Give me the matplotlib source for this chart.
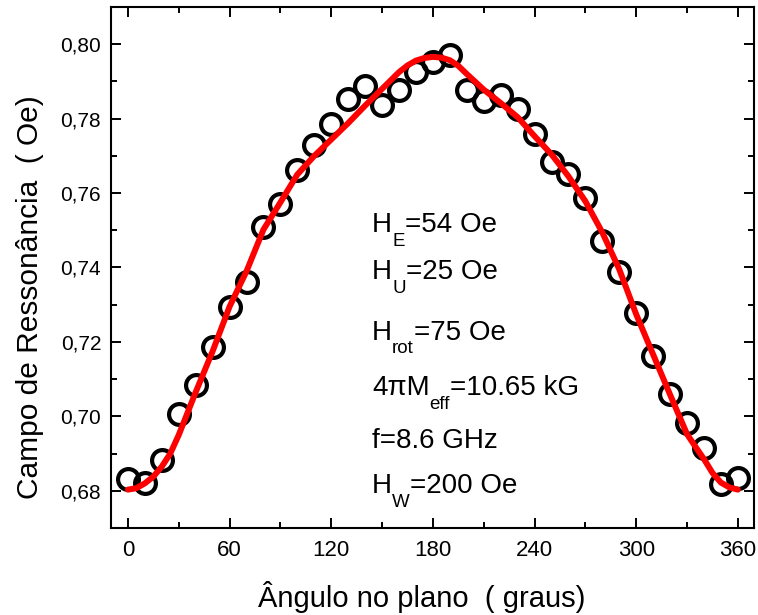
import numpy as np
import matplotlib
matplotlib.use('Agg')
import matplotlib.pyplot as plt
from matplotlib.ticker import MultipleLocator, FuncFormatter

# dados medidos (angulo no plano, campo de ressonancia)
angulo = [0, 10, 20, 30, 40, 50, 60, 70, 80, 90, 100, 110, 120, 130, 140, 150,
          160, 170, 180, 190, 200, 210, 220, 230, 240, 250, 260, 270, 280, 290,
          300, 310, 320, 330, 340, 350, 360]
campo = [0.6832, 0.6822, 0.6884, 0.7007, 0.7083, 0.7185, 0.7295, 0.7362, 0.7508,
         0.7570, 0.7661, 0.7728, 0.7785, 0.7852, 0.7887, 0.7836, 0.7876, 0.7925,
         0.7952, 0.7970, 0.7876, 0.7847, 0.7863, 0.7825, 0.7760, 0.7683, 0.7650,
         0.7588, 0.7470, 0.7387, 0.7279, 0.7161, 0.7061, 0.6983, 0.6916, 0.6819,
         0.6833]

# curva ajustada
angulo_fit = [0, 5, 10, 15, 20, 25, 30, 40, 50, 60, 70, 80, 90, 100, 110, 120,
              130, 140, 150, 160, 165, 170, 175, 180, 185, 190, 195, 200, 210,
              220, 230, 240, 250, 260, 270, 280, 290, 300, 310, 320, 330, 335,
              340, 345, 350, 355, 360]
campo_fit = [0.6803, 0.6807, 0.6820, 0.6838, 0.6865, 0.6900, 0.6950, 0.7065,
             0.7175, 0.7295, 0.7390, 0.7502, 0.7575, 0.7650, 0.7700, 0.7744,
             0.7788, 0.7835, 0.7880, 0.7925, 0.7943, 0.7956, 0.7963, 0.7966,
             0.7964, 0.7957, 0.7942, 0.7920, 0.7878, 0.7842, 0.7804, 0.7753,
             0.7704, 0.7645, 0.7578, 0.7494, 0.7395, 0.7274, 0.7166, 0.7058,
             0.6952, 0.6918, 0.6885, 0.6848, 0.6822, 0.6809, 0.6803]

# parametros do ajuste: (simbolo, subscrito, resto)
parametros = [('H', 'E', '=54 Oe'),
              ('H', 'U', '=25 Oe'),
              ('H', 'rot', '=75 Oe'),
              ('4\u03c0M', 'eff', '=10.65 kG'),
              ('f=8.6 GHz', '', ''),
              ('H', 'W', '=200 Oe')]
y_texto = [0.568, 0.478, 0.361, 0.255, 0.154, 0.067]

plt.rcParams['font.family'] = ['Liberation Sans', 'DejaVu Sans']

fig = plt.figure(figsize=(7.58, 6.15), dpi=100)
ax = fig.add_axes([0.1464, 0.1415, 0.8483, 0.8471])

ax.plot(angulo, campo, 'o', mfc='none', mec='black', ms=15, mew=3.0, zorder=2)
ax.plot(angulo_fit, campo_fit, '-', color='red', lw=4.3, zorder=3,
        solid_capstyle='round', solid_joinstyle='round')

ax.set_xlim(-10, 369.5)
ax.set_ylim(0.670, 0.810)
ax.set_xticks(np.arange(0, 361, 60))
ax.xaxis.set_minor_locator(MultipleLocator(30))
ax.set_yticks(np.arange(0.68, 0.801, 0.02))
ax.yaxis.set_minor_locator(MultipleLocator(0.01))
ax.yaxis.set_major_formatter(FuncFormatter(lambda v, p: f'{v:.2f}'.replace('.', ',')))

for s in ax.spines.values():
    s.set_linewidth(1.5)
ax.tick_params(which='both', direction='in', top=True, right=True, width=1.4)
ax.tick_params(which='major', length=7)
ax.tick_params(which='minor', length=4.5)
ax.tick_params(axis='y', labelsize=15, pad=7)
ax.tick_params(axis='x', labelsize=16, pad=9)

fig.text(422 / 758, 1 - 597 / 615, '\u00c2ngulo no plano  ( graus)',
         fontsize=21, ha='center', va='center')
fig.text(30 / 758, 1 - 297 / 615, 'Campo de Resson\u00e2ncia  ( Oe)', fontsize=21.5,
         rotation=90, ha='center', va='center')

# texto com subscrito montado por partes
fig.canvas.draw()
r = fig.canvas.get_renderer()
inv = ax.transAxes.inverted()
for (a, b, c), yy in zip(parametros, y_texto):
    t = ax.text(0.406, yy, a, transform=ax.transAxes, fontsize=20, va='baseline')
    bb = t.get_window_extent(r)
    x1 = inv.transform((bb.x1, 0))[0]
    if b:
        t2 = ax.text(x1, yy - 0.026, b, transform=ax.transAxes, fontsize=13.5,
                     va='baseline')
        bb2 = t2.get_window_extent(r)
        x1 = inv.transform((bb2.x1, 0))[0]
    if c:
        ax.text(x1, yy, c, transform=ax.transAxes, fontsize=20, va='baseline')

fig.savefig('out.png', dpi=100)
